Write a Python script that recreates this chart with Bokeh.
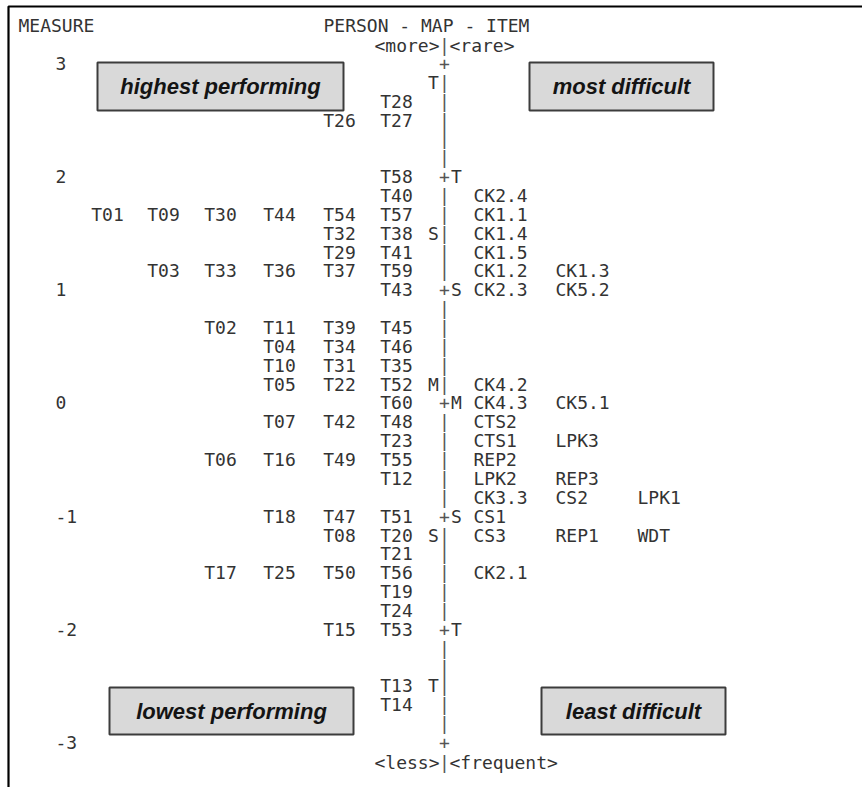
from bokeh.plotting import figure
from bokeh.models import Range1d, ColumnDataSource
from bokeh.core.properties import value
from bokeh.embed import file_html
from bokeh.resources import INLINE

# ---- data: Rasch person-item (Wright) map --------------------------------
# persons (test takers) with the measure bin they fall in, left-to-right per row
person_ids = [
    "T28",
    "T26", "T27",
    "T58",
    "T40",
    "T01", "T09", "T30", "T44", "T54", "T57",
    "T32", "T38",
    "T29", "T41",
    "T03", "T33", "T36", "T37", "T59",
    "T43",
    "T02", "T11", "T39", "T45",
    "T04", "T34", "T46",
    "T10", "T31", "T35",
    "T05", "T22", "T52",
    "T60",
    "T07", "T42", "T48",
    "T23",
    "T06", "T16", "T49", "T55",
    "T12",
    "T18", "T47", "T51",
    "T08", "T20",
    "T21",
    "T17", "T25", "T50", "T56",
    "T19",
    "T24",
    "T15", "T53",
    "T13",
    "T14",
]
person_measure = [
    2.667,
    2.500, 2.500,
    2.000,
    1.833,
    1.667, 1.667, 1.667, 1.667, 1.667, 1.667,
    1.500, 1.500,
    1.333, 1.333,
    1.167, 1.167, 1.167, 1.167, 1.167,
    1.000,
    0.667, 0.667, 0.667, 0.667,
    0.500, 0.500, 0.500,
    0.333, 0.333, 0.333,
    0.167, 0.167, 0.167,
    0.000,
    -0.167, -0.167, -0.167,
    -0.333,
    -0.500, -0.500, -0.500, -0.500,
    -0.667,
    -1.000, -1.000, -1.000,
    -1.167, -1.167,
    -1.333,
    -1.500, -1.500, -1.500, -1.500,
    -1.667,
    -1.833,
    -2.000, -2.000,
    -2.500,
    -2.667,
]

# items with their difficulty bin
item_ids = [
    "CK2.4", "CK1.1", "CK1.4", "CK1.5",
    "CK1.2", "CK1.3",
    "CK2.3", "CK5.2",
    "CK4.2",
    "CK4.3", "CK5.1",
    "CTS2",
    "CTS1", "LPK3",
    "REP2",
    "LPK2", "REP3",
    "CK3.3", "CS2", "LPK1",
    "CS1",
    "CS3", "REP1", "WDT",
    "CK2.1",
]
item_measure = [
    1.833, 1.667, 1.500, 1.333,
    1.167, 1.167,
    1.000, 1.000,
    0.167,
    0.000, 0.000,
    -0.167,
    -0.333, -0.333,
    -0.500,
    -0.667, -0.667,
    -0.833, -0.833, -0.833,
    -1.000,
    -1.167, -1.167, -1.167,
    -1.500,
]

# logit scale
measure_ticks = [3, 2, 1, 0, -1, -2, -3]

# mean (M), one (S) and two (T) standard deviations
person_marks = ["T", "S", "M", "S", "T"]
person_mark_measure = [2.833, 1.500, 0.167, -1.167, -2.500]
item_marks = ["T", "S", "M", "S", "T"]
item_mark_measure = [2.000, 1.000, 0.000, -1.000, -2.000]

# ---- layout ---------------------------------------------------------------
W, H = 862, 787
ROW_PX = 18.86               # one text line = 1/6 logit
UNIT_PX = ROW_PX * 6
TOP_PX = 63                  # pixel row of measure 3


def from_px(px):
    return 3 - (px - TOP_PX) / UNIT_PX


AXIS_X = 444
PERSON_COLS = [107, 163, 220, 279, 339, 396]
ITEM_COLS = [473, 555, 637]
MONO = value("DejaVu Sans Mono")
MONO_SIZE = "18px"
INK = "#333333"

p = figure(width=W, height=H, output_backend="svg", toolbar_location=None,
           x_range=Range1d(0, W), y_range=Range1d(from_px(H), from_px(0)),
           x_axis_location=None, y_axis_location=None, min_border=0)
p.grid.visible = False
p.outline_line_color = None
p.background_fill_color = "white"
p.border_fill_color = "white"

# frame
p.line([8, 8, W], [from_px(H), from_px(6), from_px(6)], line_color="black", line_width=2.2)


def mono(xs, ys, texts, align="left", color=INK):
    p.text(x=xs, y=ys, text=texts, text_font=MONO, text_font_size=MONO_SIZE,
           text_align=align, text_baseline="middle", text_color=color)


# persons: each row is filled from the axis outwards
px_x = []
rows = {}
for pid, m in zip(person_ids, person_measure):
    rows.setdefault(m, []).append(pid)
for m, ids in rows.items():
    n = len(ids)
    for i in range(n):
        px_x.append(PERSON_COLS[len(PERSON_COLS) - n + i])
mono(px_x, person_measure, person_ids, align="center")

# items: listed outwards from the axis
it_x = []
irows = {}
for iid, m in zip(item_ids, item_measure):
    irows.setdefault(m, []).append(iid)
for m, ids in irows.items():
    for i in range(len(ids)):
        it_x.append(ITEM_COLS[i])
mono(it_x, item_measure, item_ids, align="left")

# vertical axis drawn as text characters: '+' at whole logits, '|' between
axis_y = [k / 6 for k in range(-18, 19)]
axis_c = ["+" if k % 6 == 0 else "|" for k in range(-18, 19)]
mono([AXIS_X] * len(axis_y), axis_y, axis_c, align="center", color="#555555")

# distribution markers
mono([433] * len(person_marks), person_mark_measure, person_marks, align="center")
mono([456] * len(item_marks), item_mark_measure, item_marks, align="center")

# scale labels
mono([55] * len(measure_ticks), measure_ticks, [str(t) for t in measure_ticks])

# headings
mono([18], [from_px(25)], ["MEASURE"])
mono([323], [from_px(25)], ["PERSON - MAP - ITEM"])
for y_px, lo, hi in [(45, "<more>", "<rare>"), (762, "<less>", "<frequent>")]:
    mono([AXIS_X - 5], [from_px(y_px)], [lo], align="right")
    mono([AXIS_X], [from_px(y_px)], ["|"], align="center", color="#555555")
    mono([AXIS_X + 5], [from_px(y_px)], [hi], align="left")

# annotation boxes
boxes = ColumnDataSource(dict(
    left=[97, 529, 109, 541],
    right=[343, 713, 353, 725],
    top=[from_px(62), from_px(62), from_px(687), from_px(687)],
    bottom=[from_px(110), from_px(110), from_px(734), from_px(734)],
    label=["highest performing", "most difficult", "lowest performing", "least difficult"],
))
p.quad(left="left", right="right", top="top", bottom="bottom", source=boxes,
       fill_color="#d9d9d9", line_color="#3c3c3c", line_width=2)
cx = [(l + r) / 2 for l, r in zip(boxes.data["left"], boxes.data["right"])]
cy = [(t + b) / 2 for t, b in zip(boxes.data["top"], boxes.data["bottom"])]
p.text(x=cx, y=cy, text=boxes.data["label"], text_font=value("Liberation Sans"),
       text_font_size="22px", text_font_style="bold italic", text_align="center",
       text_baseline="middle", text_color="#141414")

open("out.html", "w").write(file_html(p, INLINE))
